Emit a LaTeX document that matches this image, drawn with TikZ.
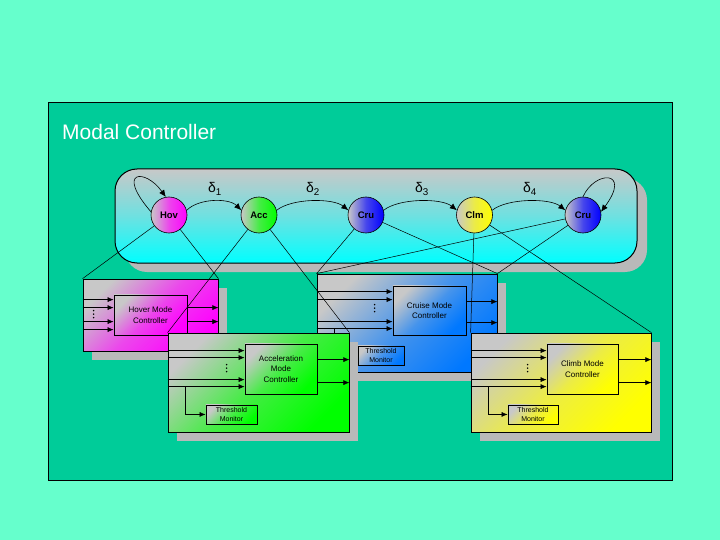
\documentclass[tikz,border=0pt]{standalone}
\usepackage{fontspec}
\setmainfont{Liberation Sans}
\usetikzlibrary{arrows.meta,shadows,calc}
\definecolor{bgout}{RGB}{102,255,204}
\definecolor{bgmain}{RGB}{0,204,153}
\definecolor{sgray}{RGB}{185,185,185}
\definecolor{lgray}{RGB}{200,200,200}
\definecolor{crublue}{RGB}{0,120,255}
\tikzset{
  sig/.style={-{Latex[length=6pt,width=5pt]}, line width=0.6pt},
  trans/.style={-{Latex[length=7pt,width=6pt]}, line width=0.6pt},
  link/.style={line width=0.5pt},
  grad/.style={top color=lgray, bottom color=#1, middle color=#1!65!lgray, shading angle=45},
  hgrad/.style={left color=lgray, right color=#1, middle color=#1!65!lgray},
  bigbox/.style={draw, line width=0.8pt, inner sep=0pt,
    drop shadow={shadow xshift=9pt, shadow yshift=-9pt, fill=sgray, opacity=1}},
  ctrlbox/.style={draw, line width=0.7pt, inner sep=0pt, align=center, anchor=north west,
    font=\fontsize{8}{10.5}\selectfont},
  thrbox/.style={draw, line width=0.7pt, inner sep=0pt, align=center, anchor=north west,
    font=\fontsize{7}{8.3}\selectfont},
  stnode/.style={circle, draw, line width=0.6pt, minimum size=36pt, inner sep=0pt,
    font=\bfseries\fontsize{9.5}{10}\selectfont},
  panelbox/.style={draw, line width=1pt, rounded corners=22pt, minimum width=522pt, minimum height=94pt,
    top color=lgray, bottom color=cyan, middle color=cyan!45!lgray,
    drop shadow={shadow xshift=10pt, shadow yshift=-9pt, fill=sgray, opacity=1}},
  dlabel/.style={font=\fontsize{14}{16}\selectfont, inner sep=0pt}
}
\begin{document}
\begin{tikzpicture}[x=1pt,y=-1pt]
\fill[bgout] (0,0) rectangle (720,540);
\useasboundingbox (0,0) rectangle (720,540);
\draw[fill=bgmain, line width=0.8pt] (48,102) rectangle (672,480);
\node[anchor=base west, text=white, font=\fontsize{21}{25}\selectfont, inner sep=0pt] (title) at (62,140) {Modal Controller};

% state panel
\node[panelbox] (panel) at (376,216) {};
\node[stnode, hgrad=magenta] (hov) at (169,215) {Hov};
\node[stnode, hgrad=green] (acc) at (259,215) {Acc};
\node[stnode, hgrad=blue] (cru1) at (366,215) {Cru};
\node[stnode, hgrad=yellow] (clm) at (474.5,215) {Clm};
\node[stnode, hgrad=blue] (cru2) at (583,215) {Cru};

\draw[trans] (hov.15) .. controls ($(hov)+(30,-17)$) and ($(acc)+(-30,-17)$) .. (acc.165);
\draw[trans] (acc.15) .. controls ($(acc)+(33,-17)$) and ($(cru1)+(-33,-17)$) .. (cru1.165);
\draw[trans] (cru1.15) .. controls ($(cru1)+(33,-17)$) and ($(clm)+(-33,-17)$) .. (clm.165);
\draw[trans] (clm.15) .. controls ($(clm)+(33,-17)$) and ($(cru2)+(-33,-17)$) .. (cru2.165);
\draw[trans] (hov.170) .. controls (115,170) and (145,168) .. (hov.100);
\draw[trans] (cru2.90) .. controls (595,170) and (632,170) .. (cru2.10);

\node[dlabel] (d1) at (215,189) {δ\textsubscript{1}};
\node[dlabel] (d2) at (313,189) {δ\textsubscript{2}};
\node[dlabel] (d3) at (422,189) {δ\textsubscript{3}};
\node[dlabel] (d4) at (530,189) {δ\textsubscript{4}};

% Hover box
\node[bigbox, grad=magenta, minimum width=135pt, minimum height=72pt] (hoverbox) at (150.5,315) {};
\node[ctrlbox, grad=magenta, minimum width=73pt, minimum height=40pt] (hoverctrl) at ($(hoverbox.north west)+(31,16)$) {Hover Mode\\Controller};
\foreach \dy in {21,29,43,51} \draw[sig] ($(hoverbox.north west)+(0,\dy)$) -- ($(hoverctrl.north west)+(0,\dy-16)$);
\foreach \dy in {13,27} \draw[sig] ($(hoverctrl.north east)+(0,\dy)$) -- ($(hoverbox.north east)+(0,\dy+16)$);
\foreach \k in {0,1,2} \fill ($(hoverbox.north west)+(11,32+3.5*\k)$) circle (0.8pt);

% Cruise box
\node[bigbox, grad=crublue, minimum width=180pt, minimum height=98pt] (cruisebox) at (407,323) {};
\node[ctrlbox, grad=crublue, minimum width=73pt, minimum height=49pt] (cruisectrl) at ($(cruisebox.north west)+(76,12)$) {Cruise Mode\\Controller};
\node[thrbox, grad=crublue, minimum width=46pt, minimum height=19pt] (cruisethr) at ($(cruisebox.north west)+(41,72)$) {Threshold\\Monitor};
\foreach \dy in {18,26,48,55} \draw[sig] ($(cruisebox.north west)+(0,\dy)$) -- ($(cruisectrl.north west)+(0,\dy-12)$);
\foreach \dy in {16,37} \draw[sig] ($(cruisectrl.north east)+(0,\dy)$) -- ($(cruisebox.north east)+(0,\dy+12)$);
\foreach \k in {0,1,2} \fill ($(cruisebox.north west)+(58,31+3.5*\k)$) circle (0.8pt);
\draw[sig] ($(cruisebox.north west)+(18,55)$) |- (cruisethr.west);

% Acceleration box
\node[bigbox, grad=green, minimum width=181pt, minimum height=99pt] (accbox) at (258.5,382.5) {};
\node[ctrlbox, grad=green, minimum width=72pt, minimum height=50pt] (accctrl) at ($(accbox.north west)+(77,11)$) {Acceleration\\Mode\\Controller};
\node[thrbox, grad=green, minimum width=51pt, minimum height=19pt] (accthr) at ($(accbox.north west)+(38,72)$) {Threshold\\Monitor};
\foreach \dy in {18,25,47,54} \draw[sig] ($(accbox.north west)+(0,\dy)$) -- ($(accctrl.north west)+(0,\dy-11)$);
\foreach \dy in {16,39} \draw[sig] ($(accctrl.north east)+(0,\dy)$) -- ($(accbox.north east)+(0,\dy+11)$);
\foreach \k in {0,1,2} \fill ($(accbox.north west)+(59,32+3.5*\k)$) circle (0.8pt);
\draw[sig] ($(accbox.north west)+(18,54)$) |- (accthr.west);

% Climb box
\node[bigbox, grad=yellow, minimum width=180pt, minimum height=99pt] (climbbox) at (561,382.5) {};
\node[ctrlbox, grad=yellow, minimum width=71pt, minimum height=50pt] (climbctrl) at ($(climbbox.north west)+(76,11)$) {Climb Mode\\Controller};
\node[thrbox, grad=yellow, minimum width=50pt, minimum height=19pt] (climbthr) at ($(climbbox.north west)+(37,72)$) {Threshold\\Monitor};
\foreach \dy in {18,25,47,54} \draw[sig] ($(climbbox.north west)+(0,\dy)$) -- ($(climbctrl.north west)+(0,\dy-11)$);
\foreach \dy in {16,39} \draw[sig] ($(climbctrl.north east)+(0,\dy)$) -- ($(climbbox.north east)+(0,\dy+11)$);
\foreach \k in {0,1,2} \fill ($(climbbox.north west)+(57,32+3.5*\k)$) circle (0.8pt);
\draw[sig] ($(climbbox.north west)+(18,54)$) |- (climbthr.west);

% links from states to controllers
\draw[link] (hov) -- (hoverbox.north west);
\draw[link] (hov) -- (hoverbox.north east);
\draw[link] (acc) -- (accbox.north west);
\draw[link] (acc) -- (accbox.north east);
\draw[link] (cru1) -- (cruisebox.north west);
\draw[link] (cru1) -- (cruisebox.north east);
\draw[link] (cru2) -- (cruisebox.north west);
\draw[link] (cru2) -- (cruisebox.north east);
\draw[link] (clm) -- (climbbox.north west);
\draw[link] (clm) -- (climbbox.north east);
\end{tikzpicture}
\end{document}
